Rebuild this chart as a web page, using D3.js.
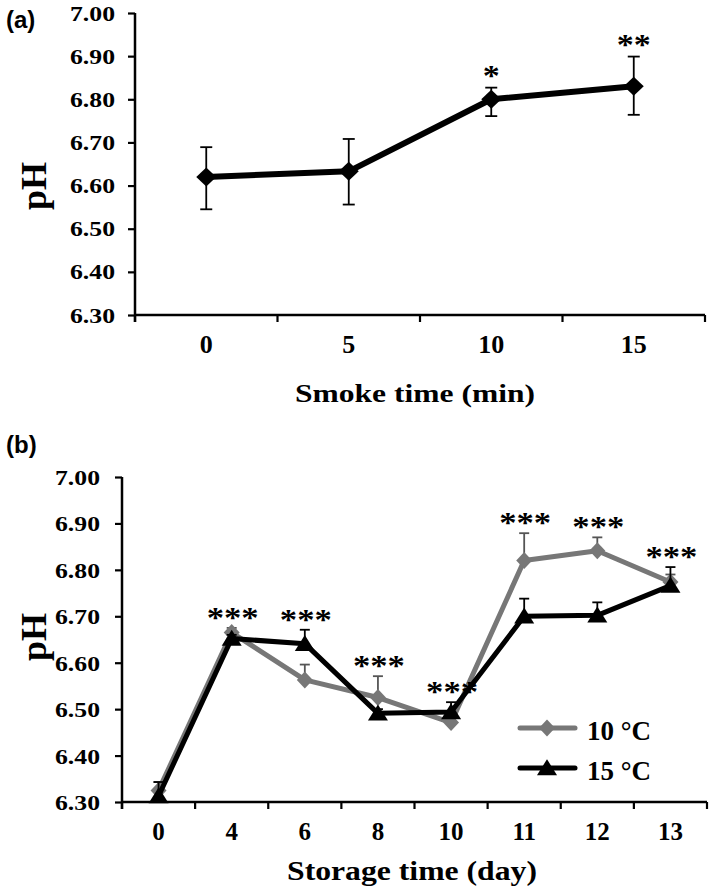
<!DOCTYPE html>
<html>
<head>
<meta charset="utf-8">
<script src="https://cdn.jsdelivr.net/npm/d3@7"></script>
<style>
  html, body { margin: 0; padding: 0; background: #fff; }
  svg { display: block; }
  text { font-family: "Liberation Serif", "Times New Roman", serif; font-weight: bold; fill: #000; }
  .panel-label { font-family: "Liberation Sans", Arial, sans-serif; }
</style>
</head>
<body>
<script>
// ---------- data ----------
const yTickValues = [6.30, 6.40, 6.50, 6.60, 6.70, 6.80, 6.90, 7.00];

// Panel (a): pH vs smoke time
const smokeTimes = ["0", "5", "10", "15"];
const smokePH = [6.620, 6.633, 6.800, 6.830];
const smokeErrLow = [6.545, 6.556, 6.761, 6.764];
const smokeErrHigh = [6.689, 6.708, 6.827, 6.899];
const smokeSig = ["", "", "*", "**"];

// Panel (b): pH vs storage time
const storageDays = ["0", "4", "6", "8", "10", "11", "12", "13"];
const ph10 = [6.325, 6.665, 6.563, 6.525, 6.471, 6.820, 6.841, 6.774];
const ph10Upper = [6.343, 6.675, 6.596, 6.571, 6.480, 6.879, 6.870, 6.790];
const ph15 = [6.313, 6.652, 6.641, 6.491, 6.494, 6.700, 6.702, 6.766];
const ph15Upper = [6.343, 6.660, 6.671, 6.500, 6.515, 6.738, 6.730, 6.806];
const storageSig = ["", "***", "***", "***", "***", "***", "***", "***"];
const seriesNames = ["10 °C", "15 °C"];

// ---------- drawing ----------
const W = 709, H = 890;
const svg = d3.select("body").append("svg").attr("width", W).attr("height", H);
svg.append("rect").attr("width", W).attr("height", H).attr("fill", "#fff");

const GRAY = "#777777";
const fmt = d3.format(".2f");

function diamondPath(hw, hh) {
  return `M0,${-hh}L${hw},0L0,${hh}L${-hw},0Z`;
}
function trianglePath(hw, h) {
  return `M0,${-h * 0.55}L${hw},${h * 0.45}L${-hw},${h * 0.45}Z`;
}

function drawAxes(g, x, y, opts) {
  const [x0, x1] = x.range();
  const [yb, yt] = y.range();
  // y axis
  const yAxis = d3.axisLeft(y).tickValues(yTickValues).tickFormat(fmt).tickSize(7).tickSizeOuter(0).tickPadding(0);
  const ya = g.append("g").attr("transform", `translate(${x0},0)`).call(yAxis);
  ya.select(".domain").remove();
  ya.selectAll(".tick line").attr("stroke", "#000").attr("stroke-width", 2.2);
  ya.selectAll(".tick text")
    .attr("x", opts.yLabelRight - x0)
    .attr("dy", "0.34em")
    .attr("font-size", opts.yFont)
    .attr("textLength", 45)
    .attr("lengthAdjust", "spacingAndGlyphs")
    .attr("fill", "#000");
  g.append("line").attr("x1", x0).attr("x2", x0).attr("y1", yt).attr("y2", yb + 7)
    .attr("stroke", "#000").attr("stroke-width", 2.5);
  // x axis line
  g.append("line").attr("x1", x0).attr("x2", x1).attr("y1", yb).attr("y2", yb)
    .attr("stroke", "#000").attr("stroke-width", 2.5);
  // boundary ticks
  const bounds = x.domain().map(d => x(d)).concat([x1]);
  g.selectAll(".btick").data(bounds).join("line")
    .attr("x1", d => d).attr("x2", d => d).attr("y1", yb).attr("y2", yb + 7)
    .attr("stroke", "#000").attr("stroke-width", 2.2);
  // category labels
  const xAxis = d3.axisBottom(x).tickSize(0).tickPadding(0);
  const xa = g.append("g").attr("transform", `translate(0,${yb})`).call(xAxis);
  xa.select(".domain").remove();
  xa.selectAll(".tick text")
    .attr("y", opts.xLabelBaseline - yb)
    .attr("dy", 0)
    .attr("font-size", opts.xFont)
    .attr("fill", "#000");
}

// ---------- Panel (a) ----------
{
  const g = svg.append("g");
  const x = d3.scaleBand().domain(smokeTimes).range([135, 705]);
  const y = d3.scaleLinear().domain([6.3, 7.0]).range([315, 13]);
  const cx = d => x(d) + x.bandwidth() / 2;

  drawAxes(g, x, y, { yLabelRight: 115, yFont: 21, xLabelBaseline: 353, xFont: 26 });

  const pts = smokeTimes.map((k, i) => ({ k, v: smokePH[i], lo: smokeErrLow[i], hi: smokeErrHigh[i], s: smokeSig[i] }));

  // error bars
  const eb = g.append("g").attr("stroke", "#000").attr("stroke-width", 1.8);
  pts.forEach(p => {
    eb.append("line").attr("x1", cx(p.k)).attr("x2", cx(p.k)).attr("y1", y(p.lo)).attr("y2", y(p.hi));
    eb.append("line").attr("x1", cx(p.k) - 6).attr("x2", cx(p.k) + 6).attr("y1", y(p.lo)).attr("y2", y(p.lo));
    eb.append("line").attr("x1", cx(p.k) - 6).attr("x2", cx(p.k) + 6).attr("y1", y(p.hi)).attr("y2", y(p.hi));
  });

  g.append("path").datum(pts)
    .attr("d", d3.line().x(p => cx(p.k)).y(p => y(p.v)))
    .attr("fill", "none").attr("stroke", "#000").attr("stroke-width", 6).attr("stroke-linejoin", "round");

  g.selectAll(".mk").data(pts).join("path")
    .attr("d", diamondPath(10, 9.5))
    .attr("transform", p => `translate(${cx(p.k)},${y(p.v)})`)
    .attr("fill", "#000");

  g.selectAll(".sig").data(pts.filter(p => p.s)).join("text")
    .attr("x", p => cx(p.k)).attr("y", p => y(p.hi) - 3)
    .attr("text-anchor", "middle").attr("font-size", 30)
    .attr("textLength", p => p.s.length * 17).attr("lengthAdjust", "spacingAndGlyphs")
    .text(p => p.s);

  svg.append("text").attr("class", "panel-label").attr("x", 6).attr("y", 28)
    .attr("font-size", 24).text("(a)");
  svg.append("text").attr("transform", "translate(46,186) rotate(-90)")
    .attr("text-anchor", "middle").attr("font-size", 36)
    .attr("textLength", 48).attr("lengthAdjust", "spacingAndGlyphs").text("pH");
  svg.append("text").attr("x", 415).attr("y", 402).attr("text-anchor", "middle")
    .attr("font-size", 26).attr("textLength", 240).attr("lengthAdjust", "spacingAndGlyphs")
    .text("Smoke time (min)");
}

// ---------- Panel (b) ----------
{
  const g = svg.append("g");
  const x = d3.scaleBand().domain(storageDays).range([122, 707]);
  const y = d3.scaleLinear().domain([6.3, 7.0]).range([802, 477]);
  const cx = d => x(d) + x.bandwidth() / 2;

  drawAxes(g, x, y, { yLabelRight: 100, yFont: 22, xLabelBaseline: 840, xFont: 25 });

  const series = [
    { name: seriesNames[0], vals: ph10, upper: ph10Upper, color: GRAY, mk: diamondPath(8, 8.5), ebColor: "#555" },
    { name: seriesNames[1], vals: ph15, upper: ph15Upper, color: "#000", mk: trianglePath(10, 16), ebColor: "#000" }
  ];

  series.forEach(s => {
    const pts = storageDays.map((k, i) => ({ k, v: s.vals[i], hi: s.upper[i] }));
    const eb = g.append("g").attr("stroke", s.ebColor).attr("stroke-width", 1.8);
    pts.forEach(p => {
      eb.append("line").attr("x1", cx(p.k)).attr("x2", cx(p.k)).attr("y1", y(p.v)).attr("y2", y(p.hi));
      eb.append("line").attr("x1", cx(p.k) - 5).attr("x2", cx(p.k) + 5).attr("y1", y(p.hi)).attr("y2", y(p.hi));
    });
    g.append("path").datum(pts)
      .attr("d", d3.line().x(p => cx(p.k)).y(p => y(p.v)))
      .attr("fill", "none").attr("stroke", s.color).attr("stroke-width", 5).attr("stroke-linejoin", "round");
    g.append("g").selectAll("path").data(pts).join("path")
      .attr("d", s.mk)
      .attr("transform", p => `translate(${cx(p.k)},${y(p.v)})`)
      .attr("fill", s.color);
  });

  const sigPts = storageDays.map((k, i) => ({ k, s: storageSig[i], top: Math.max(ph10Upper[i], ph15Upper[i], ph10[i], ph15[i]) }))
    .filter(p => p.s);
  g.selectAll(".sig").data(sigPts).join("text")
    .attr("x", p => cx(p.k) + 1).attr("y", p => y(p.top) - 1)
    .attr("text-anchor", "middle").attr("font-size", 30)
    .attr("textLength", 52).attr("lengthAdjust", "spacingAndGlyphs")
    .text(p => p.s);

  // legend
  const lg = g.append("g");
  series.forEach((s, i) => {
    const ly = 728 + i * 40;
    lg.append("line").attr("x1", 520).attr("x2", 575).attr("y1", ly).attr("y2", ly)
      .attr("stroke", s.color).attr("stroke-width", 5).attr("stroke-linecap", "round");
    lg.append("path").attr("d", s.mk).attr("transform", `translate(547,${ly})`).attr("fill", s.color);
    lg.append("text").attr("x", 587).attr("y", ly + 12).attr("font-size", 27).text(s.name);
  });

  svg.append("text").attr("class", "panel-label").attr("x", 6).attr("y", 453)
    .attr("font-size", 24).text("(b)");
  svg.append("text").attr("transform", "translate(46,637) rotate(-90)")
    .attr("text-anchor", "middle").attr("font-size", 36)
    .attr("textLength", 48).attr("lengthAdjust", "spacingAndGlyphs").text("pH");
  svg.append("text").attr("x", 412).attr("y", 880).attr("text-anchor", "middle")
    .attr("font-size", 27).attr("textLength", 250).attr("lengthAdjust", "spacingAndGlyphs")
    .text("Storage time (day)");
}
</script>
</body>
</html>
